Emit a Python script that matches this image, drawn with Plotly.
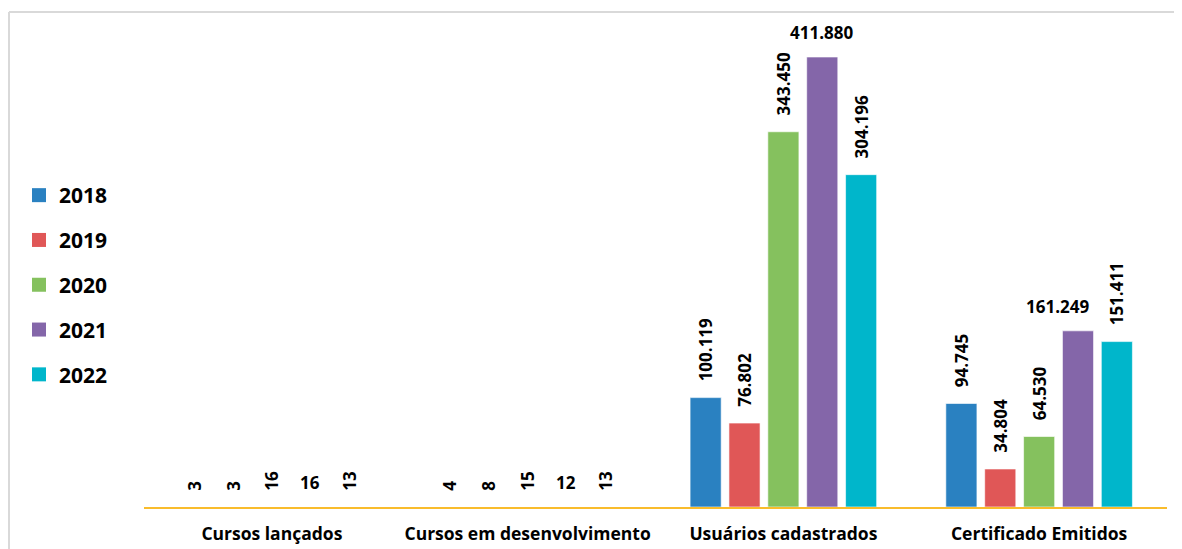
import plotly.graph_objects as go

categories = ["Cursos lançados", "Cursos em desenvolvimento", "Usuários cadastrados", "Certificado Emitidos"]
years = ["2018", "2019", "2020", "2021", "2022"]
values = {
    "2018": [3, 4, 100119, 94745],
    "2019": [3, 8, 76802, 34804],
    "2020": [16, 15, 343450, 64530],
    "2021": [16, 12, 411880, 161249],
    "2022": [13, 13, 304196, 151411],
}
labels = {
    "2018": ["3", "4", "100.119", "94.745"],
    "2019": ["3", "8", "76.802", "34.804"],
    "2020": ["16", "15", "343.450", "64.530"],
    "2021": ["16", "12", "411.880", "161.249"],
    "2022": ["13", "13", "304.196", "151.411"],
}
colors = {
    "2018": "#2A81C1",
    "2019": "#E05757",
    "2020": "#85C15E",
    "2021": "#8466A9",
    "2022": "#00B6CB",
}
horizontal_label_year = "2021"
FONT = "Open Sans"
LABEL_FONT = dict(family=FONT, size=17, color="#000000", weight="bold")
PAD = "\u00a0\u00a0\u00a0"
BARGAP = 0.24
BARGROUPGAP = 0.2
# the last horizontal label is nudged left (as in the original) to clear its neighbour
label_nudge = {"Certificado Emitidos": -20}

W, H = 1174, 541          # page body has an 8px margin
L, R, T, B = 136, 15, 12, 42
pw, ph = W - L - R, H - T - B

def px_x(p):
    return (p - L) / pw

def px_y(p):
    return (H - B - p) / ph

fig = go.Figure()
for y in years:
    horiz = (y == horizontal_label_year)
    fig.add_trace(go.Bar(
        name=y,
        x=categories,
        y=values[y],
        text=None if horiz else [PAD + s for s in labels[y]],
        textposition="outside",
        textangle=-90,
        textfont=LABEL_FONT,
        marker=dict(color=colors[y], line=dict(color="rgba(255,255,255,0.6)", width=1)),
        cliponaxis=False,
        constraintext="none",
        showlegend=False,
    ))

# legend entries (square swatches)
for y in years:
    fig.add_trace(go.Scatter(
        x=[None], y=[None], mode="markers", name=y,
        marker=dict(symbol="square", size=14, color=colors[y]),
        legendgroup=y, showlegend=True,
    ))

# horizontal labels for the 2021 series (offset by its slot within the group)
slot = pw / len(categories) * (1 - BARGAP) / len(years)
idx = years.index(horizontal_label_year)
shift = (idx - (len(years) - 1) / 2) * slot
annotations = []
for c, v, s in zip(categories, values[horizontal_label_year], labels[horizontal_label_year]):
    annotations.append(dict(
        x=c, y=v, text=s, showarrow=False, xanchor="center", yanchor="bottom",
        xshift=shift - 1 + label_nudge.get(c, 0), yshift=11, font=LABEL_FONT,
    ))

fig.update_layout(
    width=W, height=H,
    margin=dict(l=L, r=R, t=T, b=B, autoexpand=False),
    paper_bgcolor="white",
    plot_bgcolor="white",
    barmode="group",
    bargap=BARGAP,
    bargroupgap=BARGROUPGAP,
    font=dict(family=FONT, color="#000000"),
    annotations=annotations,
    legend=dict(
        x=px_x(11), y=px_y(167), xanchor="left", yanchor="top",
        font=dict(family=FONT, size=21, color="#000000", weight="bold"),
        tracegroupgap=14.5,
        bgcolor="rgba(0,0,0,0)",
        itemwidth=30,
    ),
    xaxis=dict(
        showline=True, linecolor="#F9BC2C", linewidth=2,
        ticks="", showgrid=False, ticklabelstandoff=10,
        tickfont=dict(family=FONT, size=17.5, color="#000000", weight="bold"),
    ),
    yaxis=dict(
        range=[0, 445770], visible=False, showgrid=False, zeroline=False,
    ),
    shapes=[
        dict(type="line", xref="paper", yref="paper",
             x0=px_x(1), x1=px_x(W), y0=px_y(4), y1=px_y(4),
             line=dict(color="#D9D9D9", width=2)),
        dict(type="line", xref="paper", yref="paper",
             x0=px_x(1), x1=px_x(1), y0=px_y(4), y1=px_y(H),
             line=dict(color="#D9D9D9", width=2)),
    ],
)

fig.write_html("out.html")
